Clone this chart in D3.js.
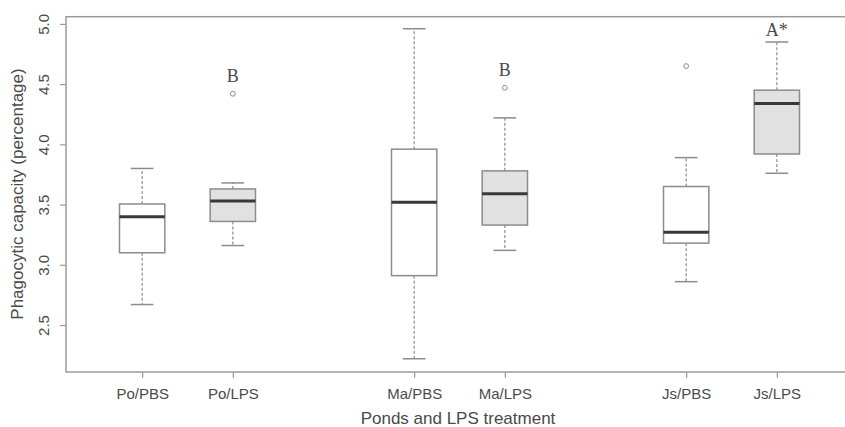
<!DOCTYPE html>
<html>
<head>
<meta charset="utf-8">
<script src="https://cdn.jsdelivr.net/npm/d3@7"></script>
<style>
  body { margin: 0; background: #fff; }
  svg { display: block; }
</style>
</head>
<body>
<svg id="boxplot" width="845" height="427"></svg>
<script>
(function (d3) {
  'use strict';

  // groups and their slot on the x axis (R style at=c(1,2,4,5,7,8))
  const groups = ['Po/PBS', 'Po/LPS', 'Ma/PBS', 'Ma/LPS', 'Js/PBS', 'Js/LPS'];
  const slots = [1, 2, 4, 5, 7, 8];
  const treatment = ['PBS', 'LPS', 'PBS', 'LPS', 'PBS', 'LPS'];

  // five number summaries
  const whiskerLow = [2.67, 3.16, 2.22, 3.12, 2.86, 3.76];
  const q1 = [3.10, 3.36, 2.91, 3.33, 3.18, 3.92];
  const median = [3.40, 3.53, 3.52, 3.59, 3.27, 4.34];
  const q3 = [3.505, 3.63, 3.96, 3.78, 3.65, 4.45];
  const whiskerHigh = [3.80, 3.68, 4.96, 4.22, 3.89, 4.85];
  const outliers = [[], [4.42], [], [4.47], [4.65], []];

  // significance letters
  const letters = ['', 'B', '', 'B', '', 'A*'];
  const letterY = [null, 4.52, null, 4.57, null, 4.90];

  const yTicks = [2.5, 3.0, 3.5, 4.0, 4.5, 5.0];

  const data = groups.map((g, i) => ({
    group: g,
    slot: slots[i],
    treatment: treatment[i],
    lo: whiskerLow[i],
    q1: q1[i],
    med: median[i],
    q3: q3[i],
    hi: whiskerHigh[i],
    out: outliers[i],
    letter: letters[i],
    letterY: letterY[i]
  }));

  const svg = d3.select('svg#boxplot');
  const frameColor = '#9a9a9a';
  const boxColor = '#8c8c8c';
  const textColor = '#4a4a4a';

  const xScale = d3.scaleLinear()
    .domain([0.16, 8.84])
    .range([66, 853]);

  const yScale = d3.scaleLinear()
    .domain([2.11, 5.06])
    .range([372, 16.7]);

  const boxHalf = 0.25;
  const capHalf = 0.125;

  // frame
  svg.append('rect')
    .attr('x', xScale.range()[0])
    .attr('y', yScale.range()[1])
    .attr('width', xScale.range()[1] - xScale.range()[0])
    .attr('height', yScale.range()[0] - yScale.range()[1])
    .attr('fill', 'none')
    .attr('stroke', frameColor)
    .attr('stroke-width', 1.5);

  // y axis
  const yAxis = d3.axisLeft(yScale)
    .tickValues(yTicks)
    .tickFormat(d3.format('.1f'))
    .tickSize(6);

  const yAxisG = svg.append('g')
    .attr('class', 'y-axis')
    .attr('transform', `translate(${xScale.range()[0]},0)`)
    .call(yAxis);
  yAxisG.select('.domain').remove();
  yAxisG.selectAll('line').attr('stroke', frameColor).attr('stroke-width', 1.2);
  // R draws these labels parallel to the axis
  yAxisG.selectAll('text')
    .attr('x', 0)
    .attr('y', 0)
    .attr('dy', 0)
    .attr('transform', `translate(${48.5 - xScale.range()[0]},0) rotate(-90)`)
    .attr('text-anchor', 'middle')
    .attr('fill', textColor)
    .style('font-family', 'Liberation Sans, Arial, sans-serif')
    .style('font-size', '15px');

  // x axis
  const xAxis = d3.axisBottom(xScale)
    .tickValues(slots)
    .tickFormat((d, i) => groups[i])
    .tickSize(6)
    .tickPadding(10);

  const xAxisG = svg.append('g')
    .attr('class', 'x-axis')
    .attr('transform', `translate(0,${yScale.range()[0]})`)
    .call(xAxis);
  xAxisG.select('.domain').remove();
  xAxisG.selectAll('line').attr('stroke', frameColor).attr('stroke-width', 1.2);
  xAxisG.selectAll('text')
    .attr('fill', textColor)
    .style('font-family', 'Liberation Sans, Arial, sans-serif')
    .style('font-size', '15px');

  // axis titles
  svg.append('text')
    .attr('x', 458)
    .attr('y', 424)
    .attr('text-anchor', 'middle')
    .attr('fill', textColor)
    .style('font-family', 'Liberation Sans, Arial, sans-serif')
    .style('font-size', '17px')
    .text('Ponds and LPS treatment');

  svg.append('text')
    .attr('transform', 'translate(23,194) rotate(-90)')
    .attr('text-anchor', 'middle')
    .attr('fill', textColor)
    .style('font-family', 'Liberation Sans, Arial, sans-serif')
    .style('font-size', '17px')
    .text('Phagocytic capacity (percentage)');

  // boxes
  const box = svg.selectAll('.box').data(data)
    .enter().append('g')
      .attr('class', 'box');

  // whiskers (dashed)
  box.append('line')
    .attr('x1', d => xScale(d.slot))
    .attr('x2', d => xScale(d.slot))
    .attr('y1', d => yScale(d.q3))
    .attr('y2', d => yScale(d.hi))
    .attr('stroke', boxColor)
    .attr('stroke-width', 1.2)
    .attr('stroke-dasharray', '3,2');
  box.append('line')
    .attr('x1', d => xScale(d.slot))
    .attr('x2', d => xScale(d.slot))
    .attr('y1', d => yScale(d.q1))
    .attr('y2', d => yScale(d.lo))
    .attr('stroke', boxColor)
    .attr('stroke-width', 1.2)
    .attr('stroke-dasharray', '3,2');

  // caps
  box.append('line')
    .attr('x1', d => xScale(d.slot - capHalf))
    .attr('x2', d => xScale(d.slot + capHalf))
    .attr('y1', d => yScale(d.hi))
    .attr('y2', d => yScale(d.hi))
    .attr('stroke', boxColor)
    .attr('stroke-width', 1.5);
  box.append('line')
    .attr('x1', d => xScale(d.slot - capHalf))
    .attr('x2', d => xScale(d.slot + capHalf))
    .attr('y1', d => yScale(d.lo))
    .attr('y2', d => yScale(d.lo))
    .attr('stroke', boxColor)
    .attr('stroke-width', 1.5);

  // box body
  box.append('rect')
    .attr('x', d => xScale(d.slot - boxHalf))
    .attr('y', d => yScale(d.q3))
    .attr('width', d => xScale(d.slot + boxHalf) - xScale(d.slot - boxHalf))
    .attr('height', d => yScale(d.q1) - yScale(d.q3))
    .attr('fill', d => d.treatment === 'LPS' ? '#e1e1e1' : '#ffffff')
    .attr('stroke', boxColor)
    .attr('stroke-width', 1.5);

  // median
  box.append('line')
    .attr('x1', d => xScale(d.slot - boxHalf))
    .attr('x2', d => xScale(d.slot + boxHalf))
    .attr('y1', d => yScale(d.med))
    .attr('y2', d => yScale(d.med))
    .attr('stroke', '#383838')
    .attr('stroke-width', 3);

  // outliers
  box.selectAll('circle')
    .data(d => d.out.map(v => ({ slot: d.slot, v })))
    .enter().append('circle')
      .attr('cx', d => xScale(d.slot))
      .attr('cy', d => yScale(d.v))
      .attr('r', 2.4)
      .attr('fill', 'none')
      .attr('stroke', boxColor)
      .attr('stroke-width', 1);

  // letters
  svg.selectAll('.letter').data(data.filter(d => d.letter))
    .enter().append('text')
      .attr('class', 'letter')
      .attr('x', d => xScale(d.slot))
      .attr('y', d => yScale(d.letterY))
      .attr('text-anchor', 'middle')
      .attr('fill', textColor)
      .style('font-family', 'Liberation Serif, Times New Roman, serif')
      .style('font-size', '18px')
      .text(d => d.letter);

}(d3));
</script>
</body>
</html>
